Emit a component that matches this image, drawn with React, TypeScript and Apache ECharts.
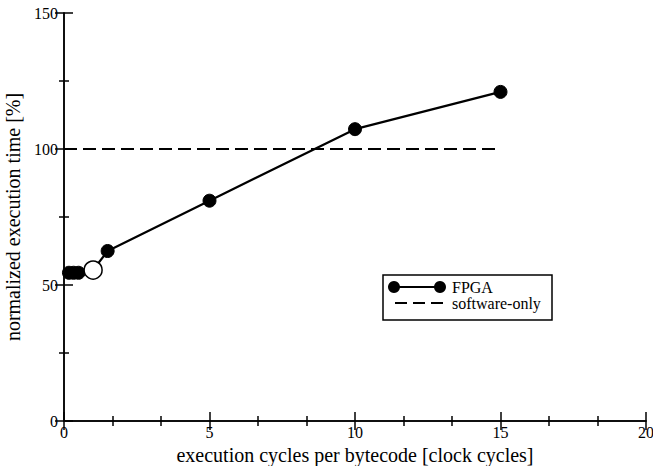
import React, { useEffect, useRef } from "react";
import * as echarts from "echarts";

const fpgaX = [0.17, 0.33, 0.5, 1, 1.5, 5, 10, 15];
const fpgaY = [54.5, 54.5, 54.5, 55.5, 62.5, 81, 107.3, 121];
const openPointIndex = 3;
const softwareX = [0, 15];
const softwareY = [100, 100];
const xTicks = [0, 5, 10, 15, 20];
const yTicks = [0, 50, 100, 150];
const legendNames = ["FPGA", "software-only"];
const xTitle = "execution cycles per bytecode [clock cycles]";
const yTitle = "normalized execution time [%]";

const FONT = "Liberation Serif";

export default function App() {
  const ref = useRef<HTMLDivElement>(null);
  useEffect(() => {
    if (!ref.current) return;
    const chart = echarts.init(ref.current, null, { renderer: "svg" });
    const axisCommon = {
      axisLine: { show: true, lineStyle: { color: "#000", width: 1.5 } },
      splitLine: { show: false },
      axisTick: { show: true, inside: true, length: 9, lineStyle: { color: "#000", width: 1.5 } },
      minorTick: { show: true, length: 5, lineStyle: { color: "#000", width: 1.5 } },
    };
    const gl = 64, gr = 646, gt = 13, gb = 421;
    chart.setOption({
      animation: false,
      backgroundColor: "#fff",
      textStyle: { fontFamily: FONT },
      grid: { left: gl, right: 653 - gr, top: gt, bottom: 466 - gb, containLabel: false, outerBoundsMode: "none" },
      xAxis: [
        {
          type: "value", min: xTicks[0], max: xTicks[xTicks.length - 1], interval: 5,
          ...axisCommon,
          minorTick: { ...axisCommon.minorTick, splitNumber: 3 },
          axisLabel: { color: "#000", fontFamily: FONT, fontSize: 16, margin: 3 },
          name: xTitle, nameLocation: "middle", nameGap: 19,
          nameTextStyle: { color: "#000", fontFamily: FONT, fontSize: 20 },
        },
        {
          type: "value", position: "top", min: 0, max: 20, interval: 5,
          ...axisCommon,
          minorTick: { ...axisCommon.minorTick, splitNumber: 3 },
          axisLabel: { show: false },
        },
      ],
      yAxis: [
        {
          type: "value", min: yTicks[0], max: yTicks[yTicks.length - 1], interval: 50,
          ...axisCommon,
          minorTick: { ...axisCommon.minorTick, splitNumber: 2 },
          axisLabel: { color: "#000", fontFamily: FONT, fontSize: 16, margin: 6 },
          name: yTitle, nameLocation: "middle", nameGap: 37,
          nameTextStyle: { color: "#000", fontFamily: FONT, fontSize: 20 },
        },
        {
          type: "value", position: "right", min: 0, max: 150, interval: 50,
          ...axisCommon,
          minorTick: { ...axisCommon.minorTick, splitNumber: 2 },
          axisLabel: { show: false },
        },
      ],
      series: [
        {
          name: legendNames[1], type: "line",
          data: softwareX.map((x, i) => [x, softwareY[i]]),
          symbol: "none",
          lineStyle: { color: "#000", width: 2.2, type: [13, 6] },
          z: 2,
        },
        {
          name: legendNames[0], type: "line",
          data: fpgaX.map((x, i) =>
            i === openPointIndex
              ? { value: [x, fpgaY[i]], symbolSize: 18, itemStyle: { color: "#fff", borderColor: "#000", borderWidth: 1.5 } }
              : [x, fpgaY[i]]
          ),
          symbol: "circle", symbolSize: 13,
          itemStyle: { color: "#000", borderColor: "#000" },
          lineStyle: { color: "#000", width: 2.2 },
          z: 3,
        },
      ],
      graphic: [
        { type: "rect", shape: { x: 383, y: 275, width: 169, height: 45 }, style: { fill: "#fff", stroke: "#000", lineWidth: 1.5 }, z: 10 },
        { type: "line", shape: { x1: 394, y1: 287, x2: 440, y2: 287 }, style: { stroke: "#000", lineWidth: 2 }, z: 11 },
        { type: "circle", shape: { cx: 394, cy: 287, r: 6 }, style: { fill: "#000" }, z: 11 },
        { type: "circle", shape: { cx: 440, cy: 287, r: 6 }, style: { fill: "#000" }, z: 11 },
        { type: "text", x: 452, y: 287, style: { text: legendNames[0], fill: "#000", fontFamily: FONT, fontSize: 16, verticalAlign: "middle" }, z: 11 },
        { type: "line", shape: { x1: 395, y1: 303, x2: 443, y2: 303 }, style: { stroke: "#000", lineWidth: 2, lineDash: [12, 6] }, z: 11 },
        { type: "text", x: 452, y: 303, style: { text: legendNames[1], fill: "#000", fontFamily: FONT, fontSize: 16, verticalAlign: "middle" }, z: 11 },
      ],
    });
    return () => chart.dispose();
  }, []);
  return <div ref={ref} style={{ position: "absolute", left: 0, top: 0, width: 653, height: 466 }} />;
}
